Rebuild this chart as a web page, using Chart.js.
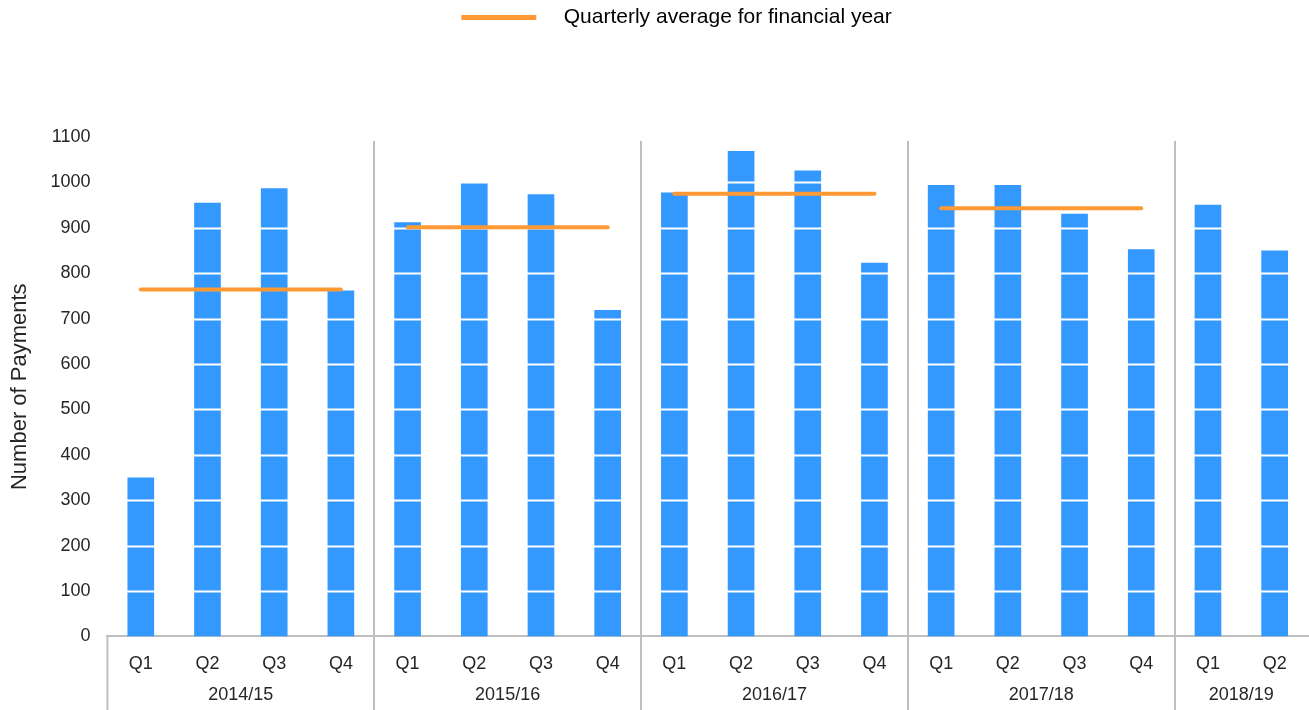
<!DOCTYPE html>
<html>
<head>
<meta charset="utf-8">
<script src="https://cdn.jsdelivr.net/npm/chart.js@4.4.0/dist/chart.umd.min.js"></script>
<style>
  html, body { margin: 0; padding: 0; background: #fff; }
  #wrap { width: 1309px; height: 710px; }
</style>
</head>
<body>
<div id="wrap"><canvas id="myChart"></canvas></div>
<script>
'use strict';

// ********** DATA **********

let quarters = ['Q1','Q2','Q3','Q4', 'Q1','Q2','Q3','Q4', 'Q1','Q2','Q3','Q4', 'Q1','Q2','Q3','Q4', 'Q1','Q2'];
let years = ['2014/15', '2015/16', '2016/17', '2017/18', '2018/19'];
let quartersPerYear = [4, 4, 4, 4, 2];
let payments = [350, 955, 987, 762, 912, 999, 974, 719, 978, 1069, 1026, 823, 994, 994, 931, 853, 951, 850];
let yearAverages = [764, 901, 975, 943, null];
let yTicks = [0, 100, 200, 300, 400, 500, 600, 700, 800, 900, 1000, 1100];

// ********** HELPERS **********

const BLUE = '#3399FF';
const ORANGE = '#FF9933';
const GREY = '#BFBFBF';
const TEXT = '#262626';
const FONT = '"Liberation Sans", Arial, sans-serif';

// which year each quarter belongs to
let yearOfQuarter = [];
years.forEach((y, i) => {
  for (let q = 0; q < quartersPerYear[i]; q++) yearOfQuarter.push(i);
});
let averageLine = yearOfQuarter.map(i => yearAverages[i]);

// legend marker: orange line with some empty room on both sides
let legendMark = document.createElement('canvas');
legendMark.width = 130;
legendMark.height = 5;
let lm = legendMark.getContext('2d');
lm.fillStyle = ORANGE;
lm.fillRect(38, 0, 75, 5);

// white gridlines over the bars, drawn before the average line
const barGridPlugin = {
  id: 'barGrid',
  afterDatasetDraw(chart, args) {
    if (args.index !== 0) return;
    const ctx = chart.ctx, y = chart.scales.y, a = chart.chartArea;
    ctx.save();
    ctx.strokeStyle = '#ffffff';
    ctx.lineWidth = 2;
    yTicks.forEach(v => {
      if (v === 0) return;
      const py = Math.round(y.getPixelForValue(v)) + 0.5;
      ctx.beginPath();
      ctx.moveTo(a.left, py);
      ctx.lineTo(a.right, py);
      ctx.stroke();
    });
    ctx.restore();
  }
};

// year separators and the second row of x labels
const yearAxisPlugin = {
  id: 'yearAxis',
  beforeInit(chart) {
    const fit = chart.legend.fit;
    chart.legend.fit = function() {
      fit.call(this);
      this.height += 99;
    };
  },
  afterDraw(chart) {
    const ctx = chart.ctx, x = chart.scales.x, a = chart.chartArea;
    const bottom = chart.height;
    ctx.save();
    ctx.strokeStyle = GREY;
    ctx.lineWidth = 2;
    // left edge below the axis
    ctx.beginPath();
    ctx.moveTo(a.left, a.bottom);
    ctx.lineTo(a.left, bottom);
    ctx.stroke();
    ctx.fillStyle = TEXT;
    ctx.font = '18px ' + FONT;
    ctx.textAlign = 'center';
    ctx.textBaseline = 'middle';
    let start = 0;
    years.forEach((yr, i) => {
      const end = start + quartersPerYear[i] - 1;
      const left = start === 0 ? a.left : (x.getPixelForValue(start - 1) + x.getPixelForValue(start)) / 2;
      const right = end === quarters.length - 1 ? a.right : (x.getPixelForValue(end) + x.getPixelForValue(end + 1)) / 2;
      if (end < quarters.length - 1) {
        ctx.beginPath();
        ctx.moveTo(Math.round(right), a.top + 4);
        ctx.lineTo(Math.round(right), bottom);
        ctx.stroke();
      }
      ctx.fillText(yr, (left + right) / 2, 695);
      start = end + 1;
    });
    ctx.restore();
  }
};

// ********** CHART **********

let chartData = {
  type: 'bar',
  data: {
    labels: quarters,
    datasets: [
      {
        label: 'Number of Payments',
        data: payments,
        backgroundColor: BLUE,
        borderWidth: 0,
        barPercentage: 0.8,
        categoryPercentage: 0.5,
        order: 2
      },
      {
        type: 'line',
        label: 'Quarterly average for financial year',
        data: averageLine,
        borderColor: ORANGE,
        backgroundColor: ORANGE,
        borderWidth: 4,
        borderCapStyle: 'round',
        pointRadius: 0,
        pointHoverRadius: 0,
        spanGaps: false,
        segment: {
          borderColor: c => yearOfQuarter[c.p0DataIndex] === yearOfQuarter[c.p1DataIndex] ? ORANGE : 'transparent'
        },
        order: 1
      }
    ]
  },
  options: {
    responsive: true,
    maintainAspectRatio: false,
    animation: false,
    layout: { padding: { left: 7, right: 1, top: 0, bottom: 18 } },
    plugins: {
      tooltip: { enabled: false },
      legend: {
        position: 'top',
        labels: {
          usePointStyle: true,
          pointStyleWidth: 130,
          boxHeight: 5,
          padding: 7,
          color: TEXT,
          font: { family: FONT, size: 21 },
          generateLabels: () => [{
            text: 'Quarterly average for financial year',
            fillStyle: ORANGE,
            strokeStyle: ORANGE,
            lineWidth: 0,
            pointStyle: legendMark,
            datasetIndex: 1
          }]
        }
      }
    },
    scales: {
      x: {
        grid: { display: false, drawTicks: false },
        border: { display: true, color: GREY, width: 2 },
        ticks: { color: TEXT, font: { family: FONT, size: 18 }, padding: 17, maxRotation: 0, autoSkip: false }
      },
      y: {
        min: 0,
        max: 1100,
        grid: { display: false, drawTicks: false },
        border: { display: false },
        ticks: { stepSize: 100, color: TEXT, font: { family: FONT, size: 18 }, padding: 17, format: { useGrouping: false } },
        title: { display: true, text: 'Number of Payments', color: TEXT, font: { family: FONT, size: 22 }, padding: { top: 0, bottom: 0 } }
      }
    }
  },
  plugins: [barGridPlugin, yearAxisPlugin]
};

Chart.defaults.color = TEXT;
new Chart(document.querySelector('#myChart'), chartData);
</script>
</body>
</html>
